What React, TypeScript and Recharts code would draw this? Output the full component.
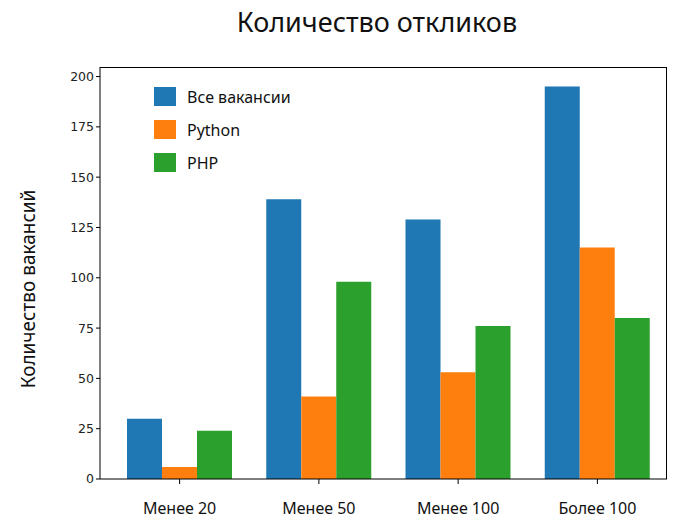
import { Bar, BarChart, XAxis, YAxis } from 'recharts';

const categories = ['Менее 20', 'Менее 50', 'Менее 100', 'Более 100'];
const allVacancies = [30, 139, 129, 195];
const python = [6, 41, 53, 115];
const php = [24, 98, 76, 80];
const yTicks = [0, 25, 50, 75, 100, 125, 150, 175, 200];

const series = [
  { key: 'all', name: 'Все вакансии', color: '#1f77b4' },
  { key: 'python', name: 'Python', color: '#ff7f0e' },
  { key: 'php', name: 'PHP', color: '#2ca02c' },
];

const data = categories.map((name, i) => ({
  name,
  all: allVacancies[i],
  python: python[i],
  php: php[i],
}));

const hand = '"Noto Sans", sans-serif';

// plot box, matching the chart margins below
const plot = { left: 100, top: 67, right: 667, bottom: 479 };

/** Frameless legend drawn inside the top-left of the plot. */
function SimpleLegend() {
  return (
    <div style={{ position: 'absolute', left: 154, top: 87, display: 'flex', flexDirection: 'column', gap: 14 }}>
      {series.map((s) => (
        <div key={s.key} style={{ display: 'flex', alignItems: 'center', height: 19 }}>
          <span style={{ width: 22, height: 19, background: s.color, display: 'inline-block' }} />
          <span style={{ marginLeft: 11, fontFamily: hand, fontSize: 16, color: '#111' }}>{s.name}</span>
        </div>
      ))}
    </div>
  );
}

export default function App() {
  return (
    <div style={{ position: 'absolute', left: 0, top: 0, width: 689, height: 531, background: '#fff' }}>
      <div
        style={{
          position: 'absolute',
          top: 3,
          left: 0,
          width: 754,
          textAlign: 'center',
          fontFamily: hand,
          fontSize: 27,
          color: '#111',
        }}
      >
        Количество откликов
      </div>
      <div
        style={{
          position: 'absolute',
          left: 28,
          top: 289,
          transform: 'translate(-50%, -50%) rotate(-90deg)',
          whiteSpace: 'nowrap',
          fontFamily: hand,
          fontSize: 19,
          color: '#111',
        }}
      >
        Количество вакансий
      </div>
      <BarChart
        width={689}
        height={531}
        data={data}
        margin={{ top: plot.top, right: 689 - plot.right, bottom: 0, left: 40 }}
        barGap={0}
        barCategoryGap={17}
      >
        <XAxis
          dataKey="name"
          height={531 - plot.bottom}
          padding={{ left: 10, right: 0 }}
          stroke="#000"
          tickLine={{ stroke: '#000' }}
          tickSize={5}
          tick={{ fontFamily: hand, fontSize: 16, fill: '#111', dy: 17 }}
        />
        <YAxis
          width={plot.left - 40}
          domain={[0, 204.75]}
          ticks={yTicks}
          allowDataOverflow
          stroke="#000"
          tickLine={{ stroke: '#000' }}
          tickSize={4}
          tick={{ fontFamily: '"DejaVu Sans", sans-serif', fontSize: 12.5, fill: '#222' }}
        />
        {series.map((s) => (
          <Bar key={s.key} dataKey={s.key} name={s.name} fill={s.color} isAnimationActive={false} />
        ))}
      </BarChart>
      <div
        style={{
          position: 'absolute',
          left: plot.left,
          top: plot.top,
          width: plot.right - plot.left,
          height: plot.bottom - plot.top,
          boxSizing: 'border-box',
          borderTop: '1px solid #000',
          borderRight: '1px solid #000',
          pointerEvents: 'none',
        }}
      />
      <SimpleLegend />
    </div>
  );
}
